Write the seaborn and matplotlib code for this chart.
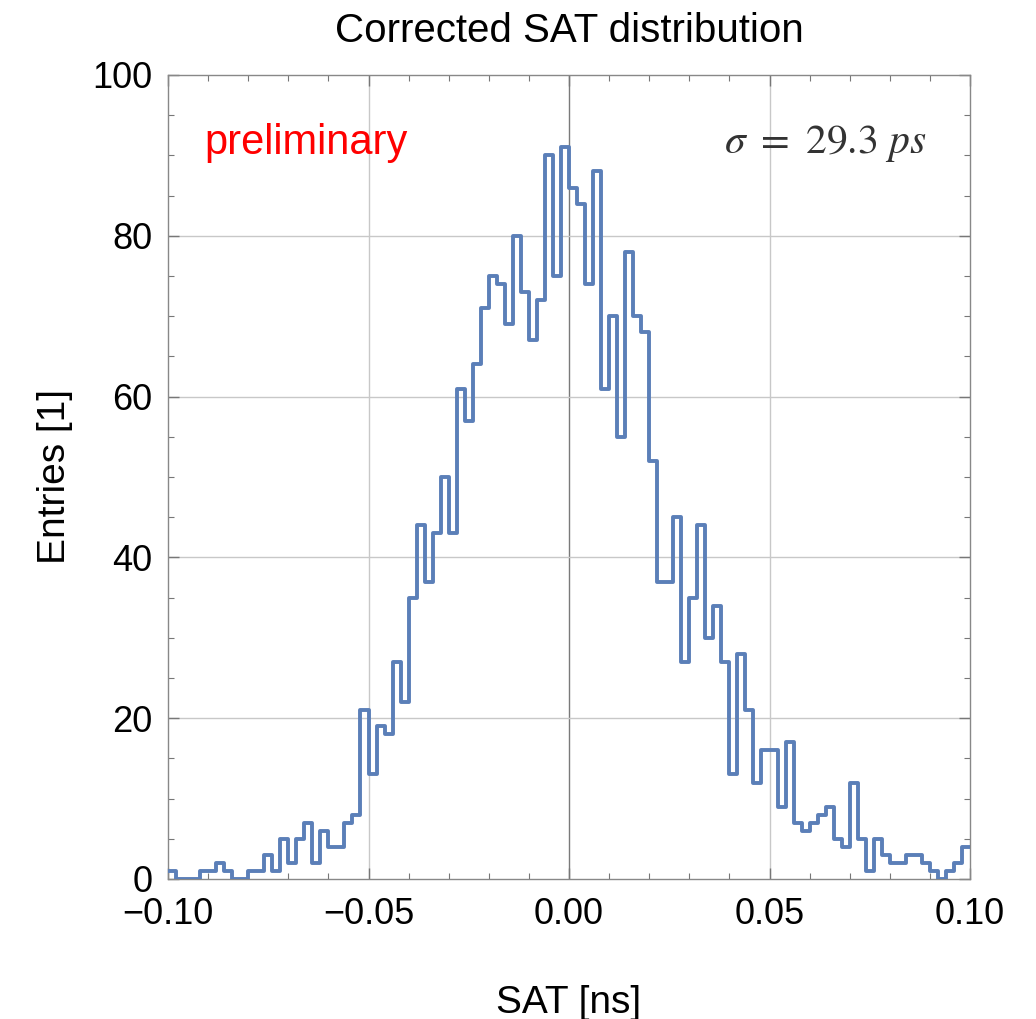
import numpy as np
import pandas as pd
import matplotlib
matplotlib.use("Agg")
import matplotlib.pyplot as plt
import seaborn as sns
from matplotlib.ticker import MultipleLocator

# ---- data ----
x_min, x_max, bin_width = -0.10, 0.10, 0.002
counts = [1, 0, 0, 0, 1, 1, 2, 1, 0, 0,
          1, 1, 3, 1, 5, 2, 5, 7, 2, 6,
          4, 4, 7, 8, 21, 13, 19, 18, 27, 22,
          35, 44, 37, 43, 50, 43, 61, 57, 64, 71,
          75, 74, 69, 80, 73, 67, 72, 90, 75, 91,
          86, 84, 74, 88, 61, 70, 55, 78, 70, 68,
          52, 37, 37, 45, 27, 35, 44, 30, 34, 27,
          13, 28, 21, 12, 16, 16, 9, 17, 7, 6,
          7, 8, 9, 5, 4, 12, 5, 1, 5, 3,
          2, 2, 3, 3, 2, 1, 0, 1, 2, 4]
x_ticks = [-0.10, -0.05, 0.00, 0.05, 0.10]
y_ticks = [0, 20, 40, 60, 80, 100]
title = "Corrected SAT distribution"
x_label = "SAT [ns]"
y_label = "Entries [1]"
note = "preliminary"
sigma_text = r"$\sigma\ =\ 29.3\ ps$"

edges = np.linspace(x_min, x_max, len(counts) + 1)
centers = (edges[:-1] + edges[1:]) / 2
df = pd.DataFrame({"sat": centers, "n": np.array(counts, dtype=float)})

sns.set_style("ticks")
plt.rcParams["font.family"] = ["Liberation Sans", "DejaVu Sans"]
plt.rcParams["mathtext.fontset"] = "stix"

fig = plt.figure(figsize=(10.36, 10.19), dpi=100)
ax = fig.add_axes([168 / 1036, 1 - 879 / 1019, (970 - 168) / 1036, (879 - 75) / 1019])

# grid
for xv in [-0.05, 0.05]:
    ax.axvline(xv, color="#c8c8c8", lw=1.0, zorder=0)
ax.axvline(0.0, color="#7a7a7a", lw=1.0, zorder=0)
for yv in [20, 40, 60, 80]:
    ax.axhline(yv, color="#c8c8c8", lw=1.0, zorder=0)

sns.histplot(data=df, x="sat", weights="n", bins=[float(e) for e in edges],
             element="step", fill=False, color="#5b7fb8", linewidth=2.8,
             ax=ax, zorder=3)

ax.set_xlim(x_min, x_max)
ax.set_ylim(0, 100)
ax.set_xticks(x_ticks)
ax.set_xticklabels([f"{v:.2f}".replace("-", "\u2212") for v in x_ticks])
ax.set_yticks(y_ticks)
ax.xaxis.set_minor_locator(MultipleLocator(0.01))
ax.yaxis.set_minor_locator(MultipleLocator(5))

for s in ax.spines.values():
    s.set_visible(True)
    s.set_color("#888888")
    s.set_linewidth(1.0)

ax.tick_params(which="both", direction="in", top=True, right=True,
               color="#777777", labelsize=26, labelcolor="black")
ax.tick_params(which="major", length=8, width=1.0)
ax.tick_params(axis="x", which="major", pad=13)
ax.tick_params(axis="y", which="major", pad=11)
ax.tick_params(which="minor", length=4, width=0.8)

ax.set_xlabel(x_label, fontsize=28, labelpad=38, color="black")
ax.set_ylabel(y_label, fontsize=28, labelpad=14, color="black")
ax.set_title(title, fontsize=29, pad=24, color="black")

ax.text(0.045, 0.915, note, transform=ax.transAxes, color="#ff0000",
        fontsize=30, ha="left", va="center")
ax.text(0.945, 0.915, sigma_text, transform=ax.transAxes, color="#333333",
        fontsize=30, ha="right", va="center")

fig.savefig("out.png", dpi=100)
